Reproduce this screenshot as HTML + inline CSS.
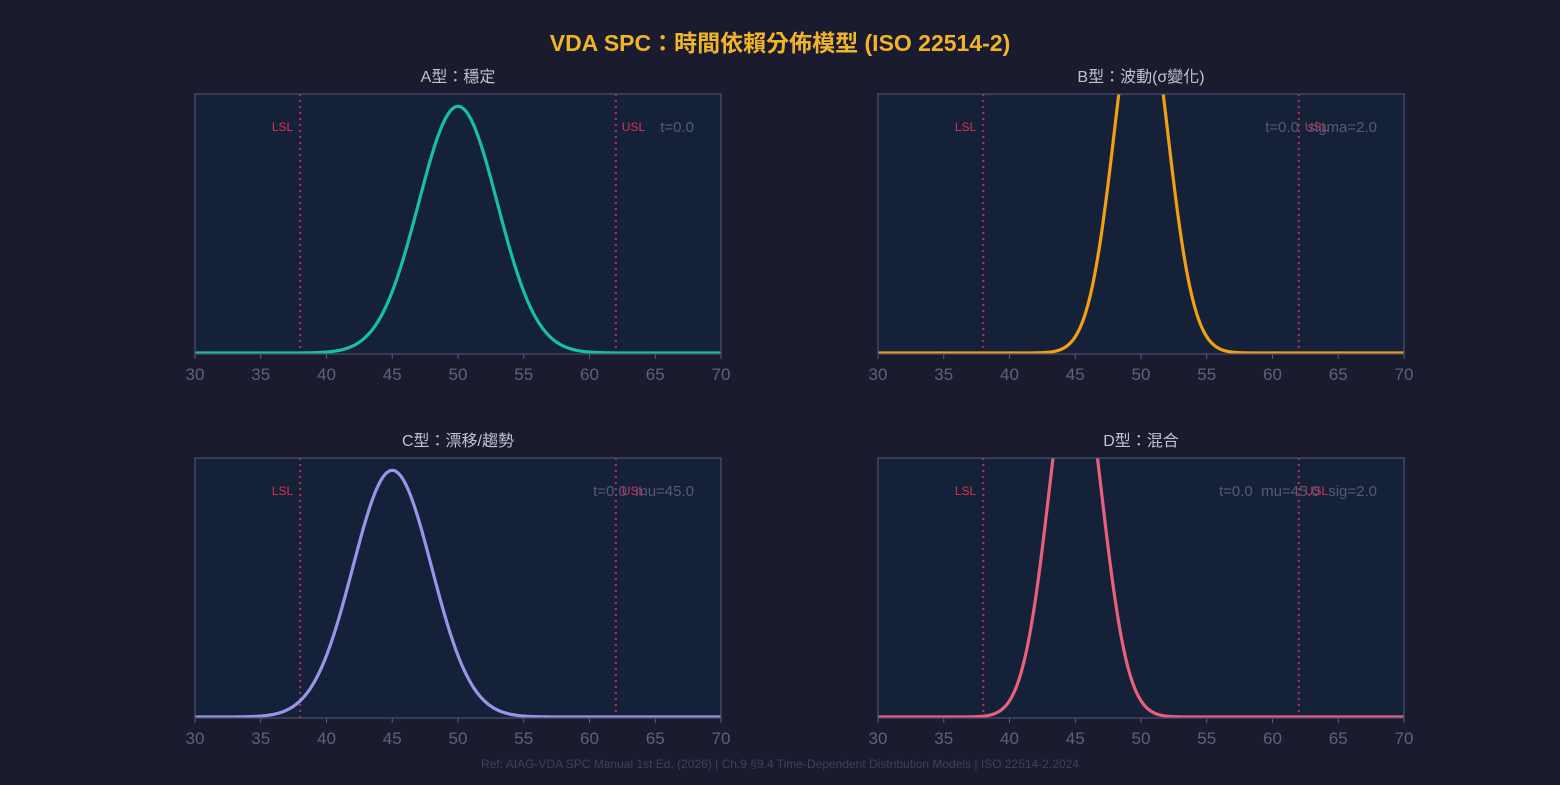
<!DOCTYPE html>
<html><head><meta charset="utf-8">
<style>
html,body{margin:0;padding:0;background:#1a1b2e;}
body{width:1560px;height:780px;overflow:hidden;font-family:"Liberation Sans","Noto Sans CJK TC",sans-serif;}
text{white-space:pre;}
</style></head>
<body>
<svg id="chart" width="1560" height="780" xmlns="http://www.w3.org/2000/svg" style="font-family:'Liberation Sans','Noto Sans CJK TC',sans-serif">
<text x="780" y="51" text-anchor="middle" font-size="23" font-weight="bold" fill="#f0b429">VDA SPC：時間依賴分佈模型 (ISO 22514-2)</text>
<text x="780" y="768" text-anchor="middle" font-size="12" fill="#3e4060">Ref: AIAG-VDA SPC Manual 1st Ed. (2026) | Ch.9 §9.4 Time-Dependent Distribution Models | ISO 22514-2.2024</text>
</svg>
<script>
const panelTitles = ["A型：穩定","B型：波動(σ變化)","C型：漂移/趨勢","D型：混合"];
const panelMu = [50,50,45,45];
const panelSigma = [3,2,3,2];
const panelColors = ["#17c0a0","#f0a010","#9a94e8","#e8607c"];
const panelNotes = ["t=0.0","t=0.0  sigma=2.0","t=0.0  mu=45.0","t=0.0  mu=45.0  sig=2.0"];
const xTicks = [30,35,40,45,50,55,60,65,70];
const specLimits = [38,62];
const specNames = ["LSL","USL"];
const xMin=30,xMax=70;
const yMax = (1/(3*Math.sqrt(2*Math.PI)))*1.05;
const boxes=[[195,94],[878,94],[195,458],[878,458]];
const W=526,H=260;
const svg=document.getElementById('chart');
const NS="http://www.w3.org/2000/svg";
function mk(t,a,p){const e=document.createElementNS(NS,t);for(const k in a)e.setAttribute(k,a[k]);(p||svg).appendChild(e);return e;}
for(let i=0;i<4;i++){
  const [x0,y0]=boxes[i];
  const sx=v=>x0+(v-xMin)/(xMax-xMin)*W;
  const sy=v=>y0+H-1-v/yMax*(H-1);
  const g=mk('g',{});
  
  
  const cid='clip'+i;
  const cp=mk('clipPath',{id:cid},g);mk('rect',{x:x0,y:y0,width:W,height:H},cp);
  const bg=mk('rect',{x:x0,y:y0,width:W,height:H,fill:'#152039'},g);
  
  
  xTicks.forEach(t=>{
    mk('line',{x1:sx(t),x2:sx(t),y1:y0,y2:y0+H,stroke:'#1b2641','stroke-width':1,'stroke-dasharray':'3 3'},g);
    mk('line',{x1:sx(t),x2:sx(t),y1:y0+H,y2:y0+H+5,stroke:'#5a5c7c','stroke-width':1},g);
    const tl=mk('text',{x:sx(t),y:y0+H+26,'text-anchor':'middle','font-size':17,fill:'#5e6080'},g);
    tl.textContent=t;
    
    
  });
  specLimits.forEach((s,j)=>{
    const l=mk('line',{x1:sx(s),x2:sx(s),y1:y0,y2:y0+H,stroke:'#b02e52','stroke-width':2.2,'stroke-dasharray':'2 4'},g);
    
    
    const tx=mk('text',{x:j==0?sx(s)-7:sx(s)+6,y:y0+37,'text-anchor':j==0?'end':'start','font-size':12,fill:'#e0304a'},g);
    tx.textContent=specNames[j];
    
    
  });
  let d='';
  for(let k=0;k<=400;k++){
    const v=xMin+(xMax-xMin)*k/400;
    const p=Math.exp(-0.5*Math.pow((v-panelMu[i])/panelSigma[i],2))/(panelSigma[i]*Math.sqrt(2*Math.PI));
    d+=(k?'L':'M')+sx(v).toFixed(2)+','+sy(p).toFixed(2);
  }
  const c=mk('path',{d:d,fill:'none',stroke:panelColors[i],'stroke-width':3.2,'clip-path':'url(#'+cid+')'},g);
  
  
  mk('rect',{x:x0,y:y0,width:W,height:H,fill:'none',stroke:'#4a4c6c','stroke-width':1.3},g);
  const nt=mk('text',{x:x0+499,y:y0+38,'text-anchor':'end','font-size':15,fill:'#555a78'},g);
  nt.textContent=panelNotes[i];
  
  
  const tt=mk('text',{x:x0+W/2,y:y0-12,'text-anchor':'middle','font-size':16,fill:'#c0c2d4'},g);
  tt.textContent=panelTitles[i];
  
  
}
</script>
</body></html>
